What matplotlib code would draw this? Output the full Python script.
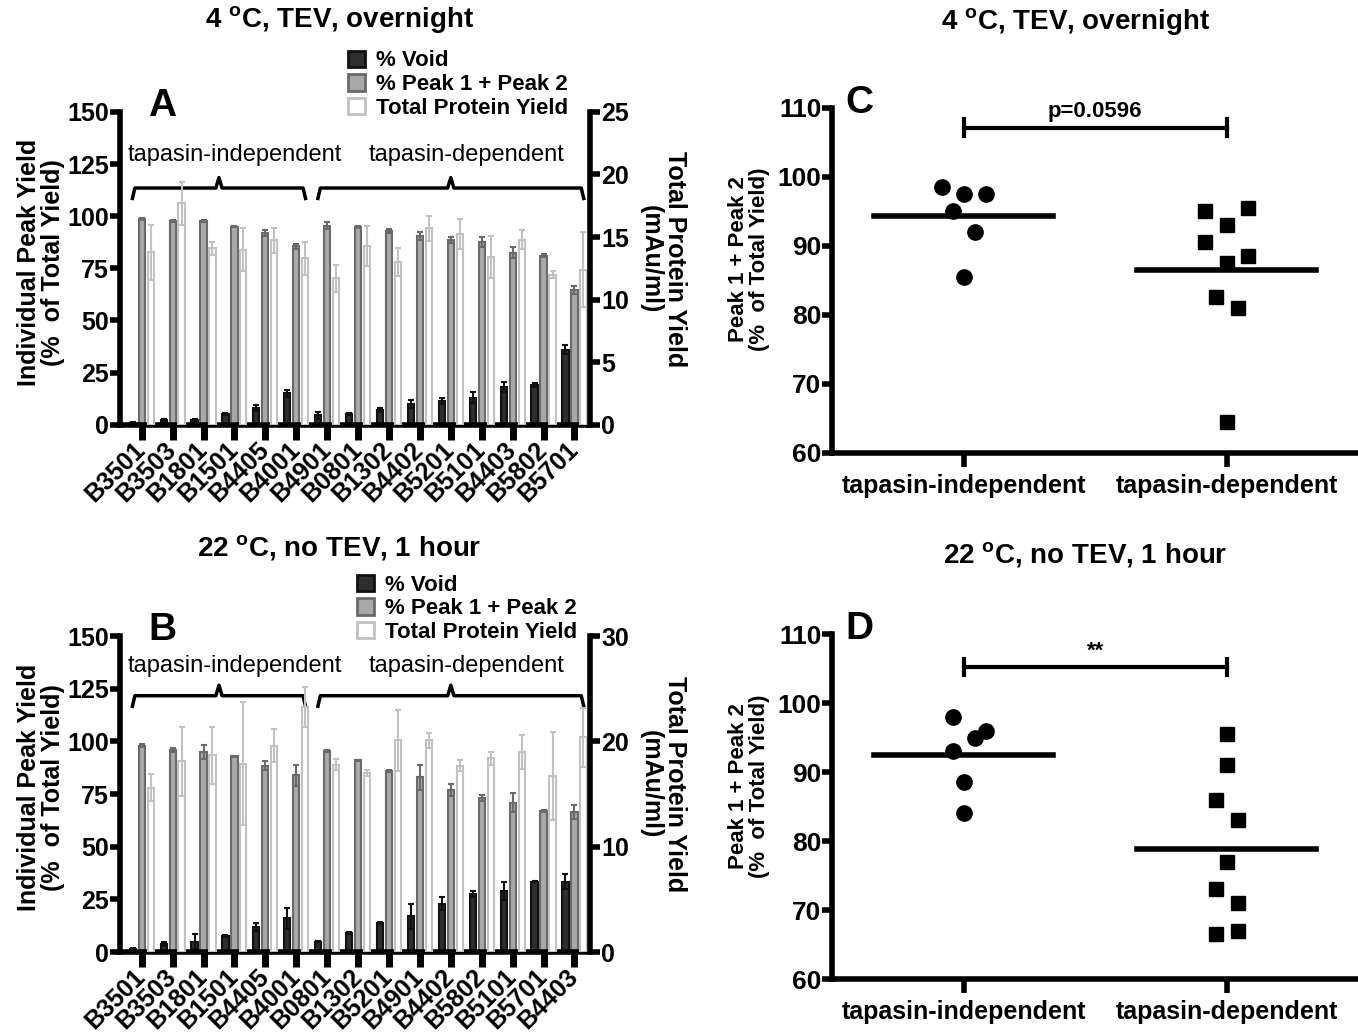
# Recreate 4-panel figure: bar charts (A, B) and dot plots (C, D)
import numpy as np
import matplotlib
matplotlib.use('Agg')
import matplotlib.pyplot as plt
from matplotlib.patches import Patch

plt.rcParams['font.family'] = ['Liberation Sans', 'DejaVu Sans']
plt.rcParams['mathtext.fontset'] = 'custom'
plt.rcParams['mathtext.rm'] = 'Liberation Sans'
plt.rcParams['mathtext.bf'] = 'Liberation Sans:bold'

# Panel A data (4 C, TEV, overnight)
alleles_a = ['B3501', 'B3503', 'B1801', 'B1501', 'B4405', 'B4001', 'B4901', 'B0801',
             'B1302', 'B4402', 'B5201', 'B5101', 'B4403', 'B5802', 'B5701']
void_a = [1, 2.5, 2.5, 5, 8, 15, 4.5, 5, 7, 10, 11.5, 13, 18, 19, 36]
void_err_a = [0.5, 0.5, 0.5, 0.5, 1.5, 1.5, 1.5, 0.5, 1, 2, 1.5, 2.5, 2.5, 1, 2]
peak_a = [98.5, 97.5, 97.5, 95, 92, 85.5, 95.5, 95, 93, 90.5, 88.5, 87.5, 82.5, 81, 64.5]
peak_err_a = [0.5, 0.5, 0.5, 0.3, 1.5, 1.2, 1.5, 0.5, 1, 2, 1.5, 2.5, 2.5, 0.8, 2]
total_a = [13.8, 17.7, 14.1, 14.0, 14.75, 13.3, 11.7, 14.25, 13.0, 15.7, 15.25, 13.4, 14.8, 12.0, 12.4]
total_err_a = [2.2, 1.7, 0.5, 1.7, 1.0, 1.3, 1.1, 1.6, 1.1, 1.0, 1.2, 1.7, 0.75, 0.25, 3.0]

# Panel B data (22 C, no TEV, 1 hour)
alleles_b = ['B3501', 'B3503', 'B1801', 'B1501', 'B4405', 'B4001', 'B0801', 'B1302',
             'B5201', 'B4901', 'B4402', 'B5802', 'B5101', 'B5701', 'B4403']
void_b = [1.5, 4, 5, 7.5, 12, 16, 5, 9, 14, 17, 23, 27.5, 29, 33.5, 33.5]
void_err_b = [0.5, 1, 3.5, 0.5, 2, 5, 0.3, 0.3, 0.5, 6, 3, 1.5, 4.5, 0.3, 3.5]
peak_b = [98, 96, 95, 93, 88.5, 84, 95.5, 91, 86, 83, 77, 73, 71, 67, 66.5]
peak_err_b = [0.8, 1, 3.5, 0.3, 2, 5, 0.3, 0.3, 0.5, 6, 3, 1.5, 4.5, 0.3, 3.5]
total_b = [15.6, 18.1, 18.7, 17.9, 19.6, 23.3, 17.8, 17.0, 20.1, 20.1, 17.7, 18.4, 19.0, 16.7, 20.4]
total_err_b = [1.3, 3.3, 2.7, 5.8, 1.6, 1.9, 0.5, 0.3, 2.9, 0.7, 0.5, 0.6, 1.6, 4.2, 2.8]

n_indep = 6
groups = ['tapasin-independent', 'tapasin-dependent']

# horizontal jitter of the dots in C and D
jit_c_ind = [-0.083, 0, 0.083, -0.042, 0.042, 0]
jit_c_dep = [0.083, -0.083, 0, -0.083, 0.083, 0, -0.042, 0.042, 0]
jit_d_ind = [-0.042, 0.083, 0.042, -0.042, 0, 0]
jit_d_dep = [0, 0, -0.042, 0.042, 0, -0.042, 0.042, 0.042, -0.042]

c_void = '#2e2e2e'
c_void_e = '#111111'
c_peak = '#a9a9a9'
c_peak_e = '#6a6a6a'
c_tot_e = '#c2c2c2'
SW = 4


def bar_panel(ax, names, void, void_err, peak, peak_err, total, total_err, rmax, rstep,
              brace_y, text_y, letter):
    x = np.arange(len(names))
    w = 0.2
    ax2 = ax.twinx()
    ax.bar(x - 0.29, void, w, yerr=void_err, color=c_void, edgecolor=c_void_e, lw=1.5,
           error_kw=dict(ecolor=c_void_e, elinewidth=1.5, capsize=2, capthick=1.5))
    ax.bar(x, peak, w, yerr=peak_err, color=c_peak, edgecolor=c_peak_e, lw=1.5,
           error_kw=dict(ecolor=c_peak_e, elinewidth=1.5, capsize=2, capthick=1.5))
    ax2.bar(x + 0.29, total, w, yerr=total_err, color='white', edgecolor=c_tot_e, lw=1.5,
            error_kw=dict(ecolor=c_tot_e, elinewidth=1.5, capsize=2, capthick=1.5))
    ax.set_xlim(-0.7, len(names) - 0.5)
    ax.set_ylim(0, 150)
    ax2.set_ylim(0, rmax)
    ax.set_yticks(np.arange(0, 151, 25))
    ax2.set_yticks(np.arange(0, rmax + 1, rstep))
    ax.set_xticks(x)
    ax.set_xticklabels(names, rotation=45, ha='right', va='center', rotation_mode='anchor',
                       fontsize=18, fontweight='bold')
    for a in (ax, ax2):
        for s in a.spines.values():
            s.set_visible(False)
    ax.spines['left'].set_visible(True)
    ax.spines['bottom'].set_visible(True)
    ax2.spines['right'].set_visible(True)
    for s in (ax.spines['left'], ax.spines['bottom'], ax2.spines['right']):
        s.set_linewidth(SW)
    ax.tick_params(axis='y', length=7, width=SW, pad=1)
    ax2.tick_params(axis='y', length=7, width=SW, pad=1)
    ax.tick_params(axis='x', length=11, width=5, pad=4)
    for lab in ax.get_yticklabels() + ax2.get_yticklabels():
        lab.set_fontweight('bold')
        lab.set_fontsize(18)
    ax.set_ylabel('Individual Peak Yield\n(%  of Total Yield)', fontsize=18, fontweight='bold',
                  linespacing=1.0)
    ax.yaxis.set_label_coords(-0.118, 0.52)
    ax2.set_ylabel('Total Protein Yield\n(mAu/ml)', fontsize=18, fontweight='bold', rotation=270,
                   linespacing=1.0, va='center')
    ax2.yaxis.set_label_coords(1.155, 0.53)
    # braces over the two groups
    spans = [(-0.3, n_indep - 1 + 0.3), (n_indep - 0.3, len(names) - 1 + 0.3)]
    for (x0, x1), g in zip(spans, groups):
        xm = (x0 + x1) / 2
        ax.plot([x0, x0 + 0.08, xm - 0.1, xm, xm + 0.1, x1 - 0.08, x1],
                [brace_y - 5, brace_y, brace_y, brace_y + 5, brace_y, brace_y, brace_y - 5],
                color='black', lw=2.5, solid_joinstyle='round', clip_on=False)
        ax.text(xm + 0.5, text_y, g, ha='center', va='center', fontsize=17)
    ax.text(0.06, 1.02, letter, transform=ax.transAxes, fontsize=28, fontweight='bold',
            ha='left', va='center')
    return ax2


def dot_panel(ax, ind, dep, jit_ind, jit_dep, sig_y, sig_txt, letter):
    ax.plot(1 + np.array(jit_ind), ind, 'o', color='black', ms=11)
    ax.plot(2 + np.array(jit_dep), dep, 's', color='black', ms=10.5)
    for xc, vals in ((1, ind), (2, dep)):
        m = np.mean(vals)
        ax.plot([xc - 0.34, xc + 0.34], [m, m], color='black', lw=4)
    ax.plot([1, 2], [sig_y, sig_y], color='black', lw=3, clip_on=False)
    ax.plot([1, 1], [sig_y - 1.2, sig_y + 1.2], color='black', lw=3, clip_on=False)
    ax.plot([2, 2], [sig_y - 1.2, sig_y + 1.2], color='black', lw=3, clip_on=False)
    ax.text(1.5, sig_y + 0.8, sig_txt, ha='center', va='bottom', fontsize=16, fontweight='bold')
    ax.set_xlim(0.5, 2.5)
    ax.set_ylim(60, 110)
    ax.set_yticks(np.arange(60, 111, 10))
    ax.set_xticks([1, 2])
    ax.set_xticklabels(groups, fontsize=18, fontweight='bold')
    for s in ('top', 'right'):
        ax.spines[s].set_visible(False)
    for s in ('left', 'bottom'):
        ax.spines[s].set_linewidth(SW)
    ax.tick_params(axis='y', length=7, width=SW, pad=1)
    ax.tick_params(axis='x', length=10, width=SW, pad=5)
    for lab in ax.get_yticklabels():
        lab.set_fontweight('bold')
        lab.set_fontsize(19)
    ax.set_ylabel('Peak 1 + Peak 2\n(%  of Total Yield)', fontsize=16, fontweight='bold',
                  linespacing=1.0)
    ax.yaxis.set_label_coords(-0.118, 0.56)
    ax.text(0.025, 1.015, letter, transform=ax.transAxes, fontsize=28, fontweight='bold',
            ha='left', va='center')


fig = plt.figure(figsize=(13.58, 10.36), dpi=100)
axA = fig.add_axes([0.0884, 0.590, 0.346, 0.302])
axB = fig.add_axes([0.0884, 0.081, 0.346, 0.305])
axC = fig.add_axes([0.613, 0.563, 0.387, 0.333])
axD = fig.add_axes([0.613, 0.055, 0.387, 0.333])

bar_panel(axA, alleles_a, void_a, void_err_a, peak_a, peak_err_a, total_a, total_err_a,
          25, 5, 113.5, 129.4, 'A')
bar_panel(axB, alleles_b, void_b, void_err_b, peak_b, peak_err_b, total_b, total_err_b,
          30, 10, 121.7, 135.6, 'B')

dot_panel(axC, peak_a[:n_indep], peak_a[n_indep:], jit_c_ind, jit_c_dep, 107.1, 'p=0.0596', 'C')
dot_panel(axD, peak_b[:n_indep], peak_b[n_indep:], jit_d_ind, jit_d_dep, 105.2, '**', 'D')

# titles
fig.text(0.25, 0.981, r'4 $^{\mathbf{o}}$C, TEV, overnight', ha='center', va='center',
         fontsize=20, fontweight='bold')
fig.text(0.25, 0.471, r'22 $^{\mathbf{o}}$C, no TEV, 1 hour', ha='center', va='center',
         fontsize=20, fontweight='bold')
fig.text(0.792, 0.979, r'4 $^{\mathbf{o}}$C, TEV, overnight', ha='center', va='center',
         fontsize=20, fontweight='bold')
fig.text(0.799, 0.464, r'22 $^{\mathbf{o}}$C, no TEV, 1 hour', ha='center', va='center',
         fontsize=20, fontweight='bold')

# legends
handles = [Patch(facecolor=c_void, edgecolor=c_void_e, lw=2, label='% Void'),
           Patch(facecolor=c_peak, edgecolor=c_peak_e, lw=2, label='% Peak 1 + Peak 2'),
           Patch(facecolor='white', edgecolor=c_tot_e, lw=2, label='Total Protein Yield')]
for anchor in ((0.248, 0.962), (0.255, 0.456)):
    leg = fig.legend(handles=handles, loc='upper left', bbox_to_anchor=anchor, frameon=False,
                     prop=dict(size=16, weight='bold'), handlelength=0.75, handleheight=0.75,
                     handletextpad=0.5, labelspacing=0.12, borderpad=0)

fig.savefig('out.png', dpi=100)
